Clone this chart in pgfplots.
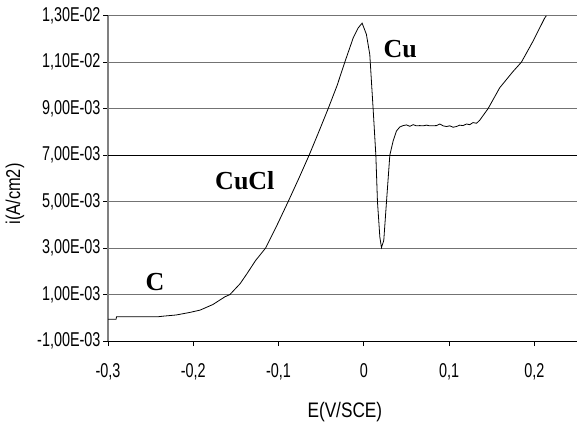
\documentclass[border=0pt]{standalone}
\usepackage{pgfplots}
\pgfplotsset{compat=1.18}
\usepackage{fontspec}
\setmainfont{Liberation Sans}
\newfontfamily\tickfont[FakeStretch=0.72]{Liberation Sans}
\newfontfamily\labfont[FakeStretch=0.82]{Liberation Sans}
\newfontfamily\annfont{Liberation Serif}

\begin{document}
\begin{tikzpicture}[x=1pt,y=1pt]
\begin{axis}[
  at={(108pt,87pt)}, anchor=south west,
  scale only axis, width=469pt, height=325.3pt,
  xmin=-0.3, xmax=0.25, ymin=-0.001, ymax=0.013,
  axis x line*=bottom, axis y line*=left,
  x axis line style={black, line width=0.9pt},
  y axis line style={black!50, line width=2pt},
  scaled x ticks=false, scaled y ticks=false,
  xtick={-0.3,-0.2,-0.1,0,0.1,0.2},
  xticklabels={{-0,3},{-0,2},{-0,1},{0},{0,1},{0,2}},
  ytick={-0.001,0.001,0.003,0.005,0.007,0.009,0.011,0.013},
  yticklabels={{-1,00E-03},{1,00E-03},{3,00E-03},{5,00E-03},{7,00E-03},{9,00E-03},{1,10E-02},{1,30E-02}},
  tick align=outside, major tick length=5pt,
  tick style={black, line width=0.8pt},
  ymajorgrids, grid style={black!55, line width=1pt},
  xticklabel style={font=\tickfont\fontsize{20}{20}\selectfont, yshift=-14pt},
  yticklabel style={font=\tickfont\fontsize{20}{20}\selectfont, xshift=1pt},
  xlabel={E(V/SCE)},
  ylabel={i(A/cm2)},
  xlabel style={font=\labfont\fontsize{21}{21}\selectfont, at={(axis description cs:0.505,-0.2173)}, anchor=center},
  ylabel style={font=\labfont\fontsize{20}{20}\selectfont, at={(axis description cs:-0.1983,0.452)}, anchor=center},
  clip=false,
]
% the 7,00E-03 grid line is drawn darker
\addplot[black, line width=1pt, no marks, forget plot] coordinates {(-0.3,0.007) (0.25,0.007)};

% polarisation curve
\addplot[black, line width=0.8pt, no marks] coordinates {
(-0.3,-0.00006) (-0.2905,-0.00006) (-0.29,0.00004) (-0.2424,0.00004)
(-0.235,0.00007) (-0.22,0.00012) (-0.204,0.00023) (-0.192,0.00033)
(-0.177,0.00057) (-0.163,0.0009) (-0.157,0.001) (-0.145,0.00147)
(-0.137,0.0019) (-0.127,0.00246) (-0.1152,0.003) (-0.1016,0.004)
(-0.0887,0.005) (-0.0762,0.006) (-0.0641,0.007) (-0.0535,0.00794)
(-0.0418,0.009) (-0.0313,0.0100) (-0.0223,0.011) (-0.0125,0.01204)
(-0.0067,0.01247) (-0.002,0.01268) (0.003,0.0122) (0.007,0.01133)
(0.0109,0.009) (0.0141,0.007) (0.016,0.005) (0.0188,0.00347)
(0.0207,0.00302) (0.0234,0.00333) (0.0266,0.005) (0.0305,0.007)
(0.0344,0.00761) (0.0383,0.00804) (0.0422,0.00821) (0.0461,0.00827)
(0.05,0.0083) (0.0539,0.00824) (0.0578,0.00831) (0.0617,0.00826)
(0.0656,0.00827) (0.0695,0.00826) (0.0735,0.00829) (0.0773,0.00826)
(0.0852,0.00827) (0.0891,0.00834) (0.093,0.00826) (0.0969,0.00823)
(0.1008,0.00826) (0.1047,0.0082) (0.1086,0.00823) (0.1125,0.00829)
(0.1164,0.00827) (0.1204,0.00834) (0.1242,0.00831) (0.1281,0.0084)
(0.1321,0.00837) (0.1359,0.0085) (0.1398,0.0087) (0.1457,0.009)
(0.1594,0.0099) (0.175,0.0106) (0.1848,0.011) (0.1984,0.0119)
(0.2121,0.0129) (0.2141,0.0130)
};

\node[font=\annfont\bfseries\fontsize{26}{26}\selectfont] at (axis cs:-0.2449,0.00153) {C};
\node[font=\annfont\bfseries\fontsize{26}{26}\selectfont] at (axis cs:-0.1395,0.00589) {CuCl};
\node[font=\annfont\bfseries\fontsize{26}{26}\selectfont] at (axis cs:0.0428,0.01157) {Cu};
\end{axis}
\pgfresetboundingbox
\useasboundingbox (0,0) rectangle (577,428);
\end{tikzpicture}
\end{document}
